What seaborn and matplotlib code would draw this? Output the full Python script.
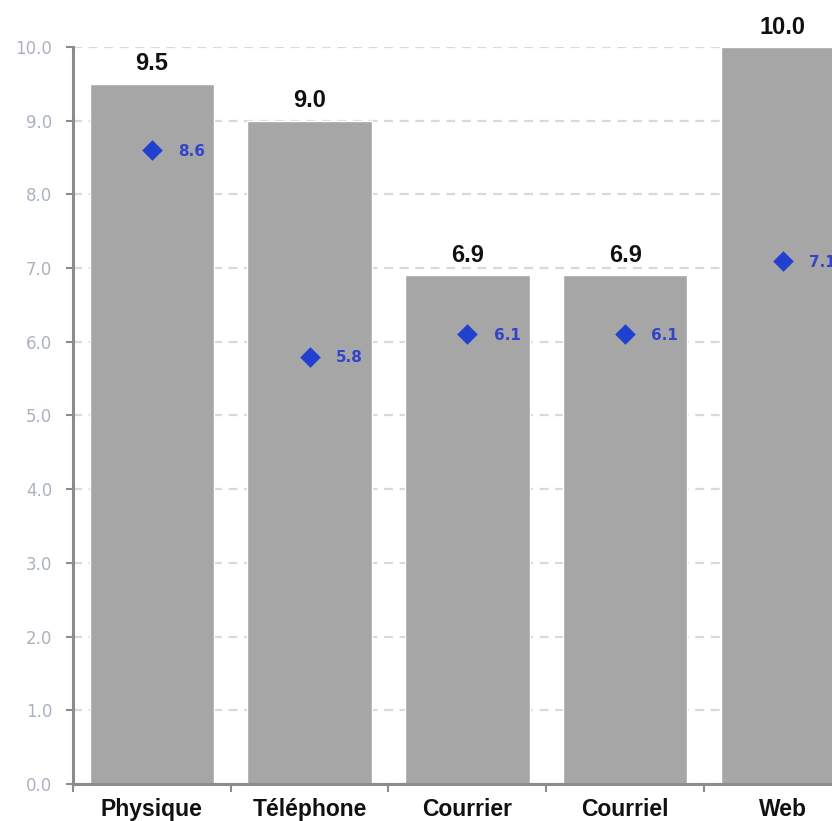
import matplotlib
matplotlib.use("Agg")
import matplotlib.pyplot as plt
import seaborn as sns
import pandas as pd

# Channels and scores
canaux = ["Physique", "Téléphone", "Courrier", "Courriel", "Web"]
note_barres = [9.5, 9.0, 6.9, 6.9, 10.0]
note_points = [8.6, 5.8, 6.1, 6.1, 7.1]
graduations = [0, 1, 2, 3, 4, 5, 6, 7, 8, 9, 10]

df = pd.DataFrame({"canal": canaux, "barre": note_barres, "point": note_points})

sns.set_style("white")
plt.rcParams["font.family"] = ["Liberation Sans", "DejaVu Sans"]

fig = plt.figure(figsize=(8.32, 8.21), dpi=100)
ax = fig.add_axes([0.0877, 0.0451, 0.948, 0.8977])

GRIS_AXE = "#8c8c8c"
BLEU = "#2040d0"

sns.barplot(data=df, x="canal", y="barre", order=canaux, color="#a6a6a6",
            saturation=1, width=0.79, ax=ax, zorder=2)
sns.stripplot(data=df, x="canal", y="point", order=canaux, jitter=False,
              marker="D", size=10.5, color=BLEU, linewidth=0, ax=ax, zorder=4)

ax.set_ylim(0, 10)
ax.set_xlim(-0.5, len(canaux) - 0.5)
ax.set_yticks(graduations)
ax.set_yticklabels([f"{v:.1f}" for v in graduations], fontfamily="DejaVu Sans",
                   fontsize=12, color="#aab2c2")
ax.set_xlabel("")
ax.set_ylabel("")

# dashed horizontal grid
ax.yaxis.grid(True, linestyle=(0, (4, 3)), color="#d9d9d9", linewidth=1.6, zorder=0)
ax.set_axisbelow(True)

for s in ["top", "right"]:
    ax.spines[s].set_visible(False)
for s in ["left", "bottom"]:
    ax.spines[s].set_color(GRIS_AXE)
    ax.spines[s].set_linewidth(2.2)

ax.tick_params(axis="y", which="major", left=True, length=5, width=1.5,
               color=GRIS_AXE, pad=10)
# category labels centred, tick marks on the boundaries
ax.set_xticks(range(len(canaux)))
ax.set_xticklabels(canaux, fontsize=16.5, fontweight="bold", color="#111111")
ax.tick_params(axis="x", which="major", length=0, pad=10)
ax.set_xticks([i - 0.5 for i in range(len(canaux) + 1)], minor=True)
ax.tick_params(axis="x", which="minor", bottom=True, length=6, width=1.5,
               color=GRIS_AXE, direction="out")

# value labels above bars
ax.bar_label(ax.containers[0], labels=[f"{v:.1f}" for v in note_barres],
             padding=6, fontsize=17, fontweight="bold", color="#111111", clip_on=False)

# value labels beside diamonds
for i, v in enumerate(note_points):
    ax.annotate(f"{v:.1f}", xy=(i, v), xytext=(19, -1), textcoords="offset points",
                ha="left", va="center", fontfamily="DejaVu Sans", fontsize=11,
                fontweight="bold", color="#3344cc", zorder=5)

fig.savefig("out.png", dpi=100)
